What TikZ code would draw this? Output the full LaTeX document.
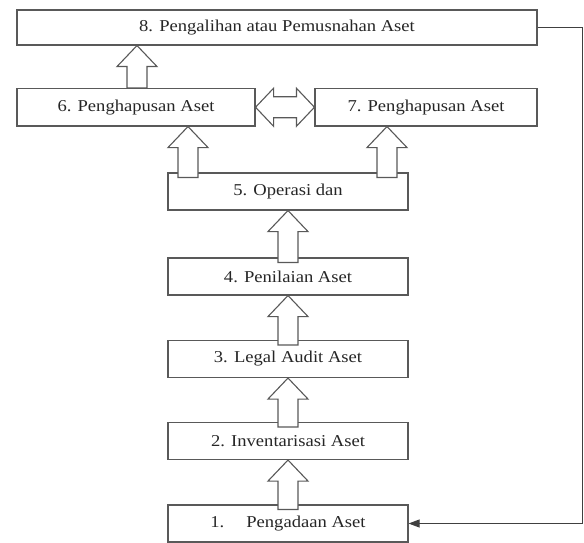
\documentclass[tikz,border=0pt]{standalone}
\usepackage{fontspec}
\setmainfont{Liberation Serif}[FakeStretch=1.12]
\usepackage{tikz}
\usetikzlibrary{arrows.meta,calc}

\begin{document}
\begin{tikzpicture}[
		x=1pt, y=-1pt,
		font=\fontsize{16.6}{19}\selectfont,
		>={Triangle[length=11pt,width=8pt]},
		box/.style={
			rectangle, draw=black!65, line width=1.1pt,
			text=black!85, inner sep=0pt,
			minimum width=240pt, minimum height=37pt
		},
		blockup/.style={
			draw=black!65, fill=white, line width=1.1pt,
			to path={($(\tikztostart)+(-10,0)$) -- ($(\tikztotarget)+(-10,21)$)
				-- ($(\tikztotarget)+(-20,21)$) -- (\tikztotarget)
				-- ($(\tikztotarget)+(20,21)$) -- ($(\tikztotarget)+(10,21)$)
				-- ($(\tikztostart)+(10,0)$) -- cycle}
		},
		blockboth/.style={
			draw=black!65, fill=white, line width=1.1pt,
			to path={(\tikztostart) -- ($(\tikztostart)+(18,-19)$)
				-- ($(\tikztostart)+(18,-10.5)$) -- ($(\tikztotarget)+(-18,-10.5)$)
				-- ($(\tikztotarget)+(-18,-19)$) -- (\tikztotarget)
				-- ($(\tikztotarget)+(-18,19)$) -- ($(\tikztotarget)+(-18,10.5)$)
				-- ($(\tikztostart)+(18,10.5)$) -- ($(\tikztostart)+(18,19)$) -- cycle}
		},
		conn/.style={->, line width=0.9pt, black!75}
		]
		\useasboundingbox (0,0) rectangle (584,543);
		
		\node[box, minimum width=520pt, minimum height=35pt] (b8) at (277,27.5) {8. Pengalihan atau Pemusnahan Aset};
		\node[box, minimum width=238pt, minimum height=37.5pt] (b6) at (136,107.25) {6. Penghapusan Aset};
		\node[box, minimum width=222pt, minimum height=37.5pt] (b7) at (426,107.25) {7. Penghapusan Aset};
		\node[box] (b5) at (288,191.5) {5. Operasi dan};
		\node[box] (b4) at (288,276.5) {4. Penilaian Aset};
		\node[box] (b3) at (288,359) {3. Legal Audit Aset};
		\node[box] (b2) at (288,441) {2. Inventarisasi Aset};
		\node[box] (b1) at (288,523.5) {1.\hspace{22pt}Pengadaan Aset};
		
		\coordinate (s68) at ([xshift=1pt]b6.north);
		\coordinate (t68) at (s68 |- b8.south);
		\draw[blockup] (s68) to (t68);
		\draw[blockboth] (b6.east) to (b7.west);
		
		\coordinate (s56) at ([shift={(-100,5)}]b5.north);
		\coordinate (t56) at (s56 |- b6.south);
		\draw[blockup] (s56) to (t56);
		\coordinate (s57) at ([shift={(99,5)}]b5.north);
		\coordinate (t57) at (s57 |- b7.south);
		\draw[blockup] (s57) to (t57);
		
		\foreach \a/\b in {4/5,3/4,2/3,1/2}{
			\coordinate (s\a\b) at ([shift={(0,5)}]b\a.north);
			\coordinate (t\a\b) at (b\b.south);
			\draw[blockup] (s\a\b) to (t\a\b);
		}
		
		\coordinate (rt) at (582,27.5);
		\draw[conn] (b8.east) -- (rt) |- (b1.east);
\end{tikzpicture}
\end{document}
